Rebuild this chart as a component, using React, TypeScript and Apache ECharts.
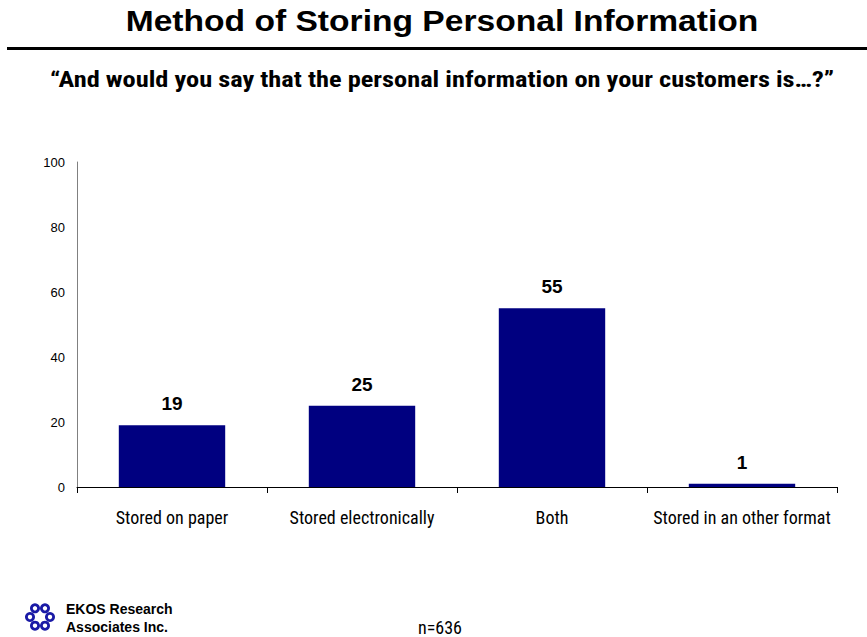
import React, { useEffect, useRef } from "react";
import * as echarts from "echarts";

const categories = ["Stored on paper", "Stored electronically", "Both", "Stored in an other format"];
const values = [19, 25, 55, 1];
const yTicks = [0, 20, 40, 60, 80, 100];

const NARROW = "'Liberation Sans Narrow', 'Arial Narrow', 'Roboto Condensed', Arial, sans-serif";
const SANS = "'Liberation Sans', Arial, Helvetica, sans-serif";

export default function App() {
  const ref = useRef<HTMLDivElement>(null);
  useEffect(() => {
    document.body.style.margin = "0";
    const chart = echarts.init(ref.current!, null, { renderer: "svg" });
    const logoRings = [0, 1, 2, 3, 4, 5].map((i) => {
      const a = (i * Math.PI) / 3;
      return {
        type: "ring",
        shape: { cx: 40 + 10 * Math.cos(a), cy: 617 + 10 * Math.sin(a), r: 5, r0: 2.2 },
        style: { fill: "#1a1aa6" },
      };
    });
    chart.setOption({
      animation: false,
      backgroundColor: "#ffffff",
      grid: { left: 77, right: 30, top: 162, bottom: 150 },
      xAxis: {
        type: "category",
        data: categories,
        axisLine: { lineStyle: { color: "#000000", width: 1 } },
        axisTick: { show: true, alignWithLabel: false, length: 6, lineStyle: { color: "#000000" } },
        axisLabel: { margin: 21, fontFamily: NARROW, fontSize: 18, color: "#000000", interval: 0 },
      },
      yAxis: {
        type: "value",
        min: 0,
        max: 100,
        interval: 20,
        axisLine: { show: true, lineStyle: { color: "#808080", width: 1 } },
        axisTick: { show: false },
        splitLine: { show: false },
        axisLabel: {
          margin: 12,
          fontFamily: SANS,
          fontSize: 13,
          color: "#000000",
          formatter: (v: number) => (yTicks.includes(v) ? String(v) : ""),
        },
      },
      series: [
        {
          type: "bar",
          data: values,
          barWidth: "56%",
          itemStyle: { color: "#000080" },
          label: {
            show: true,
            position: "top",
            distance: 12,
            fontFamily: SANS,
            fontWeight: "bold",
            fontSize: 19,
            color: "#000000",
          },
        },
      ],
      graphic: [
        {
          type: "text",
          x: 442,
          y: 21,
          scaleX: 1.12,
          style: {
            text: "Method of Storing Personal Information",
            font: `bold 30px ${SANS}`,
            fill: "#000000",
            textAlign: "center",
            textVerticalAlign: "middle",
          },
        },
        {
          type: "rect",
          shape: { x: 7, y: 47, width: 860, height: 3 },
          style: { fill: "#000000" },
        },
        {
          type: "text",
          x: 442,
          y: 79,
          scaleX: 1.2,
          style: {
            text: "\u201cAnd would you say that the personal information on your customers is\u2026?\u201d",
            font: `bold 22px ${NARROW}`,
            fill: "#000000",
            textAlign: "center",
            textVerticalAlign: "middle",
          },
        },
        ...logoRings,
        {
          type: "text",
          left: 66,
          top: 600,
          style: {
            text: "EKOS Research\nAssociates Inc.",
            font: `bold 14px ${SANS}`,
            lineHeight: 18,
            fill: "#000000",
          },
        },
        {
          type: "text",
          x: 418,
          y: 627,
          style: { text: "n=636", font: `18px ${NARROW}`, fill: "#000000", textVerticalAlign: "middle" },
        },
      ],
    });
    return () => chart.dispose();
  }, []);
  return <div ref={ref} style={{ position: "absolute", left: 0, top: 0, width: 867, height: 637 }} />;
}
